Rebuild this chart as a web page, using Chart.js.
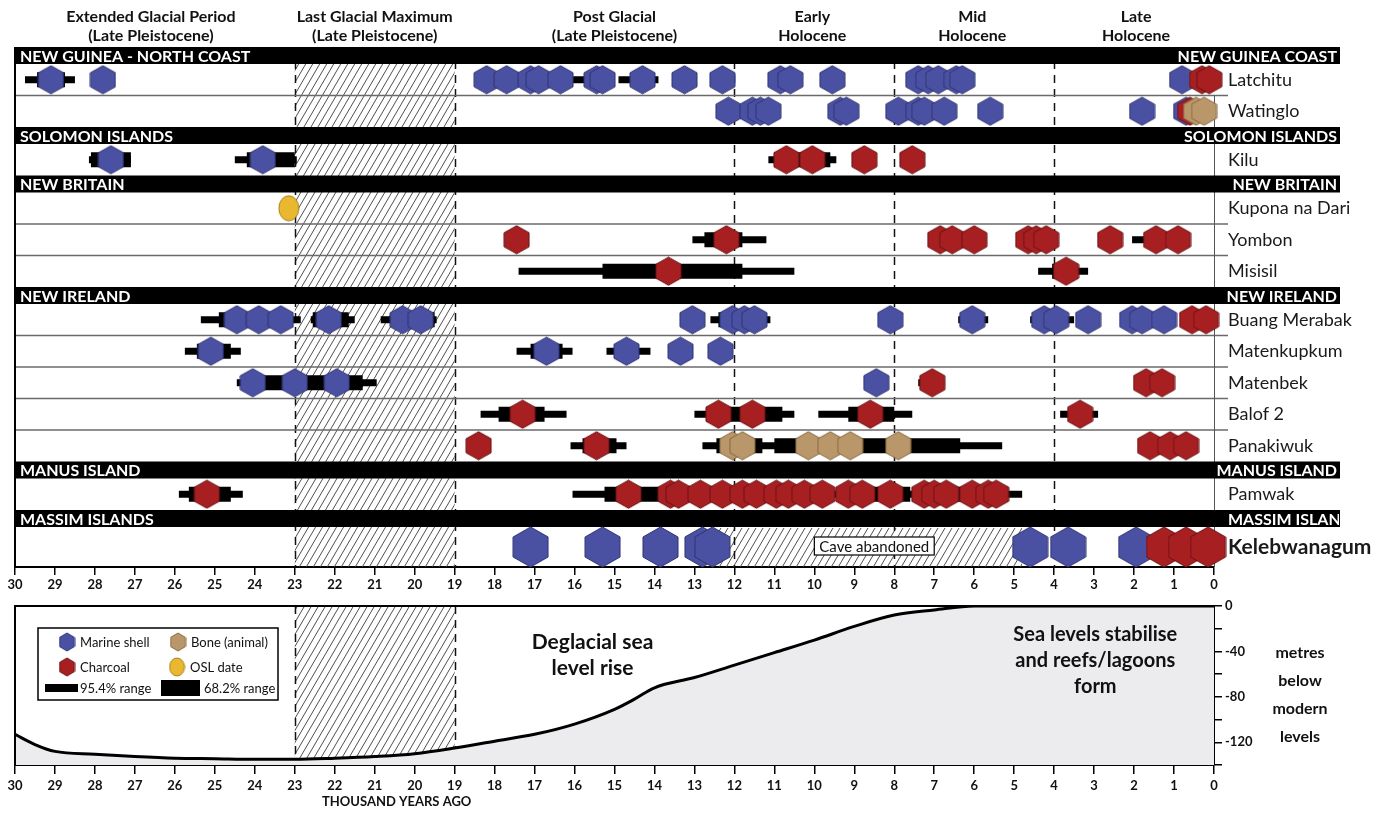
<!DOCTYPE html>
<html>
<head>
<meta charset="utf-8">
<script src="https://cdn.jsdelivr.net/npm/chart.js@4.4.1/dist/chart.umd.min.js"></script>
<style>
  html, body { margin: 0; padding: 0; background: #fff; }
  #wrap { position: relative; width: 1384px; height: 814px; overflow: hidden; }
  #top { position: absolute; left: 0; top: 0; }
  #bottom { position: absolute; left: 0; top: 600px; }
</style>
</head>
<body>
<div id="wrap">
  <canvas id="top" width="1384" height="600"></canvas>
  <canvas id="bottom" width="1384" height="214"></canvas>
</div>
<script>
const FONT = "Lato, 'DejaVu Sans Condensed', sans-serif";

// ---- period headings (thousand years ago) ----
const periodLine1 = ["Extended Glacial Period", "Last Glacial Maximum", "Post Glacial", "Early", "Mid", "Late"];
const periodLine2 = ["(Late Pleistocene)", "(Late Pleistocene)", "(Late Pleistocene)", "Holocene", "Holocene", "Holocene"];
const periodCentre = [26.6, 21, 15, 10.05, 6.05, 1.95];
const lgmSpan = [23, 19];
const phaseLines = [23, 19, 12, 8, 4];

// ---- regions and sites ----
const regionLeft = ["NEW GUINEA - NORTH COAST", "SOLOMON ISLANDS", "NEW BRITAIN", "NEW IRELAND", "MANUS ISLAND", "MASSIM ISLANDS"];
const regionRight = ["NEW GUINEA COAST", "SOLOMON ISLANDS", "NEW BRITAIN", "NEW IRELAND", "MANUS ISLAND", "MASSIM ISLANDS"];
const regionSites = [
  ["Latchitu", "Watinglo"],
  ["Kilu"],
  ["Kupona na Dari", "Yombon", "Misisil"],
  ["Buang Merabak", "Matenkupkum", "Matenbek", "Balof 2", "Panakiwuk"],
  ["Pamwak"],
  ["Kelebwanagum"]
];

// ---- dates, ka (estimated from figure) ----
const latchituShell = [29.1, 27.8, 18.2, 17.7, 17.1, 16.9, 16.35, 15.45, 15.3, 14.3, 13.25, 12.3, 10.85, 10.6, 9.55, 7.4, 7.15, 6.9, 6.45, 6.3, 0.8];
const latchituCharcoal = [0.3, 0.12];
const latchituR95 = [[29.75, 28.5], [16.1, 15.0], [14.9, 13.9]];
const latchituR68 = [[29.45, 28.75]];

const watingloShell = [12.15, 11.55, 11.35, 11.15, 9.35, 9.2, 7.9, 7.4, 7.25, 6.75, 5.6, 1.8, 0.7];
const watingloCharcoal = [0.6];
const watingloBone = [0.45, 0.25];

const kiluShell = [27.6, 23.8];
const kiluCharcoal = [10.7, 10.05, 8.75, 7.55];
const kiluR95 = [[28.15, 27.1], [24.5, 22.95], [11.15, 9.45]];
const kiluR68 = [[28.1, 27.1], [24.2, 23.0], [11.0, 9.6]];

const kuponaOsl = [23.15];

const yombonCharcoal = [17.45, 12.2, 6.85, 6.55, 6.0, 4.65, 4.45, 4.2, 2.6, 1.45, 0.9];
const yombonR95 = [[13.05, 11.2], [7.0, 5.7], [4.9, 4.0], [2.05, 1.3]];
const yombonR68 = [[12.75, 11.8]];

const misisilCharcoal = [13.65, 3.7];
const misisilR95 = [[17.4, 10.5], [4.4, 3.15]];
const misisilR68 = [[15.3, 11.8], [4.05, 3.4]];

const buangShell = [24.45, 23.9, 23.35, 22.15, 20.3, 19.85, 13.05, 12.05, 11.75, 11.5, 8.1, 6.05, 4.25, 3.95, 3.15, 2.05, 1.8, 1.25];
const buangCharcoal = [0.55, 0.2];
const buangR95 = [[25.35, 22.85], [22.6, 21.5], [20.85, 19.45], [12.6, 11.1], [6.4, 5.65], [4.6, 3.5]];
const buangR68 = [[24.9, 23.05], [22.55, 21.65], [20.6, 19.5], [12.4, 11.3]];

const matenkupkumShell = [25.1, 16.7, 14.7, 13.35, 12.35];
const matenkupkumR95 = [[25.75, 24.35], [17.45, 16.05], [15.2, 14.1]];
const matenkupkumR68 = [[25.45, 24.6], [17.1, 16.3], [14.95, 14.4]];

const matenbekShell = [24.05, 23.0, 21.95, 8.45];
const matenbekCharcoal = [7.05, 1.7, 1.3];
const matenbekR95 = [[24.45, 20.95], [7.4, 6.75]];
const matenbekR68 = [[24.2, 21.3]];

const balofCharcoal = [17.3, 12.4, 11.55, 8.6, 3.35];
const balofR95 = [[18.35, 16.2], [13.0, 10.5], [9.9, 7.55], [3.85, 2.9]];
const balofR68 = [[17.9, 16.75], [12.7, 10.8], [9.15, 8.0], [3.6, 3.1]];

const panakiwukCharcoal = [18.4, 15.45, 1.6, 1.1, 0.7];
const panakiwukBone = [12.05, 11.8, 10.15, 9.6, 9.1, 7.9];
const panakiwukR95 = [[16.1, 14.7], [12.8, 5.3]];
const panakiwukR68 = [[15.8, 14.95], [12.45, 11.3], [11.0, 6.35]];

const pamwakCharcoal = [25.2, 14.65, 13.6, 13.4, 12.85, 12.3, 11.8, 11.45, 10.95, 10.65, 10.25, 9.8, 9.15, 8.8, 8.1, 7.25, 7.0, 6.7, 6.05, 5.65, 5.45];
const pamwakR95 = [[25.9, 24.3], [16.05, 4.8]];
const pamwakR68 = [[25.65, 24.6], [15.25, 9.55], [9.35, 7.6], [7.45, 5.15]];

const kelebShell = [17.1, 15.3, 13.85, 12.8, 12.55, 4.6, 3.65, 1.95];
const kelebCharcoal = [1.25, 0.7, 0.15];
const caveAbandoned = [12.5, 4.8];

// ---- sea level (m relative to modern) ----
const seaAge = [30, 29.5, 29, 28, 27, 26, 25, 24, 23, 22, 21, 20, 19, 18, 17, 16, 15, 14.5, 14, 13, 12, 11, 10, 9, 8, 7, 6, 5, 4, 3, 2, 1, 0];
const seaLevel = [-113, -122, -128, -130.5, -132.5, -134, -134.5, -135, -135, -134, -132.5, -130, -125, -119, -113, -104, -91, -82, -72, -63, -52, -41, -30, -18, -8, -3.5, 0, 0, 0, 0, 0, 0, 0];

const siteData = [
  { site: "Latchitu", shell: latchituShell, charcoal: latchituCharcoal, r95: latchituR95, r68: latchituR68 },
  { site: "Watinglo", shell: watingloShell, charcoal: watingloCharcoal, bone: watingloBone },
  { site: "Kilu", shell: kiluShell, charcoal: kiluCharcoal, r95: kiluR95, r68: kiluR68 },
  { site: "Kupona na Dari", osl: kuponaOsl },
  { site: "Yombon", charcoal: yombonCharcoal, r95: yombonR95, r68: yombonR68 },
  { site: "Misisil", charcoal: misisilCharcoal, r95: misisilR95, r68: misisilR68 },
  { site: "Buang Merabak", shell: buangShell, charcoal: buangCharcoal, r95: buangR95, r68: buangR68 },
  { site: "Matenkupkum", shell: matenkupkumShell, r95: matenkupkumR95, r68: matenkupkumR68 },
  { site: "Matenbek", shell: matenbekShell, charcoal: matenbekCharcoal, r95: matenbekR95, r68: matenbekR68 },
  { site: "Balof 2", charcoal: balofCharcoal, r95: balofR95, r68: balofR68 },
  { site: "Panakiwuk", charcoal: panakiwukCharcoal, bone: panakiwukBone, r95: panakiwukR95, r68: panakiwukR68 },
  { site: "Pamwak", charcoal: pamwakCharcoal, r95: pamwakR95, r68: pamwakR68 },
  { site: "Kelebwanagum", shell: kelebShell, charcoal: kelebCharcoal }
];

const COLORS = {
  shell: ["#4b51a2", "#2f3472"],
  charcoal: ["#a81f22", "#6a1214"],
  bone: ["#b9976a", "#86683f"],
  osl: ["#e9b730", "#a57f17"]
};

// ---- row layout (units == px of plot height) ----
const BAND = 17, ROW = 31.5, BIG_ROW = 40;
const sites = [];
const rowCentre = {}, rowTop = {}, rowBottom = {};
const bandTop = [];
let cursor = 0;
regionSites.forEach((list) => {
  bandTop.push(cursor);
  cursor += BAND;
  list.forEach((s) => {
    const h = s === "Kelebwanagum" ? BIG_ROW : ROW;
    sites.push(s);
    rowTop[s] = cursor;
    rowCentre[s] = cursor + h / 2;
    cursor += h;
    rowBottom[s] = cursor;
  });
});
const TOTAL = cursor;

// ---- marker images ----
function hexImage(fill, stroke, w, h) {
  const c = document.createElement("canvas");
  c.width = w + 2; c.height = h + 2;
  const g = c.getContext("2d");
  const cx = c.width / 2, cy = c.height / 2;
  g.beginPath();
  g.moveTo(cx, cy - h / 2);
  g.lineTo(cx + w / 2, cy - h / 4);
  g.lineTo(cx + w / 2, cy + h / 4);
  g.lineTo(cx, cy + h / 2);
  g.lineTo(cx - w / 2, cy + h / 4);
  g.lineTo(cx - w / 2, cy - h / 4);
  g.closePath();
  g.fillStyle = fill; g.fill();
  g.strokeStyle = stroke; g.lineWidth = 1; g.stroke();
  return c;
}
function ovalImage(fill, stroke, w, h) {
  const c = document.createElement("canvas");
  c.width = w + 2; c.height = h + 2;
  const g = c.getContext("2d");
  g.beginPath();
  g.ellipse(c.width / 2, c.height / 2, w / 2, h / 2, 0, 0, Math.PI * 2);
  g.fillStyle = fill; g.fill();
  g.strokeStyle = stroke; g.lineWidth = 1; g.stroke();
  return c;
}
const hexSmall = {}, hexBig = {}, hexLegend = {};
["shell", "charcoal", "bone"].forEach((k) => {
  hexSmall[k] = hexImage(COLORS[k][0], COLORS[k][1], 25, 28);
  hexBig[k] = hexImage(COLORS[k][0], COLORS[k][1], 35, 40);
  hexLegend[k] = hexImage(COLORS[k][0], COLORS[k][1], 15, 18);
});
const oslMarker = ovalImage(COLORS.osl[0], COLORS.osl[1], 20, 25);
const oslLegend = ovalImage(COLORS.osl[0], COLORS.osl[1], 15, 18);

function hatch(ctx) {
  const c = document.createElement("canvas");
  c.width = 7; c.height = 12;
  const g = c.getContext("2d");
  g.strokeStyle = "#3c3c3c"; g.lineWidth = 0.9;
  [-7, 0, 7].forEach((o) => { g.beginPath(); g.moveTo(o, 12); g.lineTo(o + 7, 0); g.stroke(); });
  return ctx.createPattern(c, "repeat");
}

const points = (key) => siteData.flatMap((d) => (d[key] || []).map((k) => ({ x: k, y: rowCentre[d.site], big: d.site === "Kelebwanagum" })));
const segments = (key) => siteData.flatMap((d) => (d[key] || []).flatMap(([a, b]) => [
  { x: a, y: rowCentre[d.site] }, { x: b, y: rowCentre[d.site] }, { x: null, y: null }
]));

// ---- top chart decorations ----
const topDecor = {
  id: "topDecor",
  beforeDatasetsDraw(chart) {
    const { ctx, chartArea: a, scales: { x, y } } = chart;
    ctx.save();
    // LGM hatch
    ctx.fillStyle = hatch(ctx);
    ctx.fillRect(x.getPixelForValue(lgmSpan[0]), a.top, x.getPixelForValue(lgmSpan[1]) - x.getPixelForValue(lgmSpan[0]), a.bottom - a.top);
    // cave abandoned hatch
    const cx0 = x.getPixelForValue(caveAbandoned[0]), cx1 = x.getPixelForValue(caveAbandoned[1]);
    ctx.fillRect(cx0, y.getPixelForValue(rowTop.Kelebwanagum) + 1, cx1 - cx0, y.getPixelForValue(rowBottom.Kelebwanagum) - y.getPixelForValue(rowTop.Kelebwanagum) - 1);
    // phase dashed lines
    ctx.strokeStyle = "#111"; ctx.lineWidth = 1.5; ctx.setLineDash([8, 6]);
    phaseLines.forEach((k) => {
      const px = Math.round(x.getPixelForValue(k)) + 0.5;
      ctx.beginPath(); ctx.moveTo(px, a.top); ctx.lineTo(px, a.bottom); ctx.stroke();
    });
    ctx.setLineDash([]);
    // row separators
    ctx.strokeStyle = "#6a6a6a"; ctx.lineWidth = 1.5;
    regionSites.forEach((list) => {
      list.slice(0, -1).forEach((s) => {
        const py = y.getPixelForValue(rowBottom[s]);
        ctx.beginPath(); ctx.moveTo(a.left, py); ctx.lineTo(a.right + 14, py); ctx.stroke();
      });
    });
    // right frame line
    ctx.strokeStyle = "#555"; ctx.lineWidth = 1;
    ctx.beginPath(); ctx.moveTo(a.right + 0.5, y.getPixelForValue(rowTop.Watinglo)); ctx.lineTo(a.right + 0.5, a.bottom); ctx.stroke();
    // region bands
    const bandRight = 1340;
    ctx.font = "bold 16px " + FONT;
    ctx.textBaseline = "middle";
    bandTop.forEach((t, i) => {
      const y0 = y.getPixelForValue(t), y1 = y.getPixelForValue(t + BAND);
      ctx.fillStyle = "#000";
      ctx.fillRect(a.left, y0, bandRight - a.left, y1 - y0);
      ctx.fillStyle = "#fff";
      ctx.textAlign = "left";
      ctx.fillText(regionLeft[i], a.left + 5, (y0 + y1) / 2 + 1);
      ctx.save();
      ctx.beginPath(); ctx.rect(a.left, y0, bandRight - a.left - 1, y1 - y0); ctx.clip();
      const w = ctx.measureText(regionRight[i]).width;
      // the last band's label starts at the site column and runs off the band
      const lx = i === bandTop.length - 1 ? a.right + 14 : bandRight - 3 - w;
      ctx.fillText(regionRight[i], lx, (y0 + y1) / 2 + 1);
      ctx.restore();
    });
    // left frame
    ctx.strokeStyle = "#000"; ctx.lineWidth = 2;
    ctx.beginPath(); ctx.moveTo(a.left, a.top); ctx.lineTo(a.left, a.bottom); ctx.stroke();
    ctx.restore();
  },
  afterDatasetsDraw(chart) {
    const { ctx, scales: { x, y } } = chart;
    ctx.save();
    // cave abandoned label
    const cx = x.getPixelForValue((caveAbandoned[0] + caveAbandoned[1]) / 2 - 0.15);
    const cy = y.getPixelForValue(rowCentre.Kelebwanagum) - 1;
    ctx.font = "15px " + FONT;
    const w = ctx.measureText("Cave abandoned").width + 10;
    ctx.fillStyle = "#fff"; ctx.fillRect(cx - w / 2, cy - 9, w, 18);
    ctx.strokeStyle = "#000"; ctx.lineWidth = 1.2; ctx.strokeRect(cx - w / 2, cy - 9, w, 18);
    ctx.fillStyle = "#111"; ctx.textAlign = "center"; ctx.textBaseline = "middle";
    ctx.fillText("Cave abandoned", cx, cy + 1);
    // period headings
    ctx.font = "bold 16px " + FONT;
    periodLine1.forEach((t, i) => {
      const px = x.getPixelForValue(periodCentre[i]);
      ctx.fillText(t, px, 17);
      ctx.fillText(periodLine2[i], px, 36);
    });
    ctx.restore();
  }
};

new Chart(document.getElementById("top"), {
  type: "scatter",
  data: {
    datasets: [
      { type: "line", data: segments("r95"), borderColor: "#000", borderWidth: 7, borderCapStyle: "butt", pointRadius: 0, spanGaps: false, order: 20, clip: false },
      { type: "line", data: segments("r68"), borderColor: "#000", borderWidth: 15, borderCapStyle: "butt", pointRadius: 0, spanGaps: false, order: 19, clip: false },
      { data: points("shell"), pointStyle: (c) => (c.raw && c.raw.big ? hexBig.shell : hexSmall.shell), pointRadius: 5, order: 4, clip: false },
      { data: points("charcoal"), pointStyle: (c) => (c.raw && c.raw.big ? hexBig.charcoal : hexSmall.charcoal), pointRadius: 5, order: 3, clip: false },
      { data: points("bone"), pointStyle: hexSmall.bone, pointRadius: 5, order: 2, clip: false },
      { data: points("osl"), pointStyle: oslMarker, pointRadius: 5, order: 1, clip: false }
    ]
  },
  options: {
    responsive: false,
    animation: false,
    events: [],
    layout: { padding: { left: 15, top: 47, right: 0, bottom: 0 } },
    plugins: { legend: { display: false }, tooltip: { enabled: false } },
    scales: {
      x: {
        type: "linear", min: 0, max: 30, reverse: true, position: "bottom",
        afterFit: (s) => { s.height = 33; },
        ticks: { stepSize: 1, autoSkip: false, maxRotation: 0, padding: 2, color: "#111", font: { family: FONT, size: 13, weight: "bold" } },
        grid: { drawOnChartArea: false, drawTicks: true, tickLength: 8, color: "#000", lineWidth: 1.5 },
        border: { display: true, color: "#000", width: 2 }
      },
      y: {
        type: "linear", min: 0, max: TOTAL, reverse: true, position: "right",
        afterFit: (s) => { s.width = 170; s.paddingTop = 0; s.paddingBottom = 0; },
        afterBuildTicks: (s) => { s.ticks = sites.map((n) => ({ value: rowCentre[n] })); },
        ticks: {
          autoSkip: false, padding: 14, color: "#1a1a1a",
          callback: (v, i) => sites[i],
          font: (c) => (c.index === sites.length - 1 ? { family: FONT, size: 21, weight: "bold" } : { family: FONT, size: 18 })
        },
        grid: { display: false, drawTicks: false },
        border: { display: false }
      }
    }
  },
  plugins: [topDecor]
});

// ---- bottom chart ----
const bottomDecor = {
  id: "bottomDecor",
  beforeDatasetsDraw(chart) {
    const { ctx, chartArea: a, scales: { x } } = chart;
    ctx.save();
    const x0 = x.getPixelForValue(lgmSpan[0]), x1 = x.getPixelForValue(lgmSpan[1]);
    ctx.fillStyle = hatch(ctx);
    ctx.fillRect(x0, a.top, x1 - x0, a.bottom - a.top);
    ctx.strokeStyle = "#111"; ctx.lineWidth = 1.5; ctx.setLineDash([8, 6]);
    lgmSpan.forEach((k) => {
      const px = Math.round(x.getPixelForValue(k)) + 0.5;
      ctx.beginPath(); ctx.moveTo(px, a.top); ctx.lineTo(px, a.bottom); ctx.stroke();
    });
    ctx.restore();
  },
  afterDatasetsDraw(chart) {
    const { ctx, chartArea: a, scales: { x } } = chart;
    ctx.save();
    ctx.strokeStyle = "#000"; ctx.lineWidth = 2;
    ctx.beginPath(); ctx.moveTo(a.left, a.bottom); ctx.lineTo(a.left, a.top); ctx.lineTo(a.right, a.top); ctx.stroke();

    ctx.fillStyle = "#111"; ctx.textAlign = "center"; ctx.textBaseline = "middle";
    ctx.font = "bold 21px " + FONT;
    const dx = x.getPixelForValue(15.55);
    ctx.fillText("Deglacial sea", dx, 42);
    ctx.fillText("level rise", dx, 68);
    ctx.font = "bold 20px " + FONT;
    const sx = x.getPixelForValue(2.97);
    ctx.fillText("Sea levels stabilise", sx, 35);
    ctx.fillText("and reefs/lagoons", sx, 61);
    ctx.fillText("form", sx, 87);
    ctx.font = "bold 16px " + FONT;
    ["metres", "below", "modern", "levels"].forEach((t, i) => ctx.fillText(t, 1300, 53 + i * 28));
    ctx.font = "bold 13px " + FONT;
    ctx.fillText("THOUSAND YEARS AGO", x.getPixelForValue(20.45), 202);

    // legend
    ctx.fillStyle = "#fff"; ctx.fillRect(38, 28, 240, 72);
    ctx.strokeStyle = "#000"; ctx.lineWidth = 1.5; ctx.strokeRect(38, 28, 240, 72);
    const put = (img, px, py) => ctx.drawImage(img, px - img.width / 2, py - img.height / 2);
    put(hexLegend.shell, 67, 42); put(hexLegend.bone, 178, 42);
    put(hexLegend.charcoal, 67, 67); put(oslLegend, 177, 67);
    ctx.fillStyle = "#000";
    ctx.fillRect(45, 84, 33, 8);
    ctx.fillRect(161, 80, 39, 16);
    ctx.fillStyle = "#111"; ctx.textAlign = "left"; ctx.font = "13px " + FONT;
    ctx.fillText("Marine shell", 80, 43);
    ctx.fillText("Bone (animal)", 191, 43);
    ctx.fillText("Charcoal", 80, 68);
    ctx.fillText("OSL date", 190, 68);
    ctx.fillText("95.4% range", 80, 89);
    ctx.fillText("68.2% range", 204, 89);
    ctx.restore();
  }
};

new Chart(document.getElementById("bottom"), {
  type: "line",
  data: {
    datasets: [{
      data: seaAge.map((a, i) => ({ x: a, y: seaLevel[i] })),
      borderColor: "#000", borderWidth: 3, pointRadius: 0,
      fill: "start", backgroundColor: "#ececef",
      cubicInterpolationMode: "monotone"
    }]
  },
  options: {
    responsive: false,
    animation: false,
    events: [],
    layout: { padding: { left: 15, top: 6, right: 0, bottom: 0 } },
    plugins: { legend: { display: false }, tooltip: { enabled: false } },
    scales: {
      x: {
        type: "linear", min: 0, max: 30, reverse: true,
        afterFit: (s) => { s.height = 49; s.paddingLeft = 0; s.paddingRight = 0; },
        ticks: { stepSize: 1, autoSkip: false, maxRotation: 0, padding: 4, color: "#111", font: { family: FONT, size: 13, weight: "bold" } },
        grid: { drawOnChartArea: false, tickLength: 9, color: "#000", lineWidth: 1.5 },
        border: { display: true, color: "#000", width: 2 }
      },
      y: {
        type: "linear", min: -140, max: 0, position: "right",
        afterFit: (s) => { s.width = 170; s.paddingTop = 0; s.paddingBottom = 0; },
        ticks: { stepSize: 20, autoSkip: false, padding: 3, color: "#111", font: { family: FONT, size: 13, weight: "bold" },
          callback: (v) => (v % 40 === 0 ? String(v) : "") },
        grid: { drawOnChartArea: false, tickLength: 8, color: "#000", lineWidth: 1.5 },
        border: { display: true, color: "#000", width: 2 }
      }
    }
  },
  plugins: [bottomDecor]
});
</script>
</body>
</html>
